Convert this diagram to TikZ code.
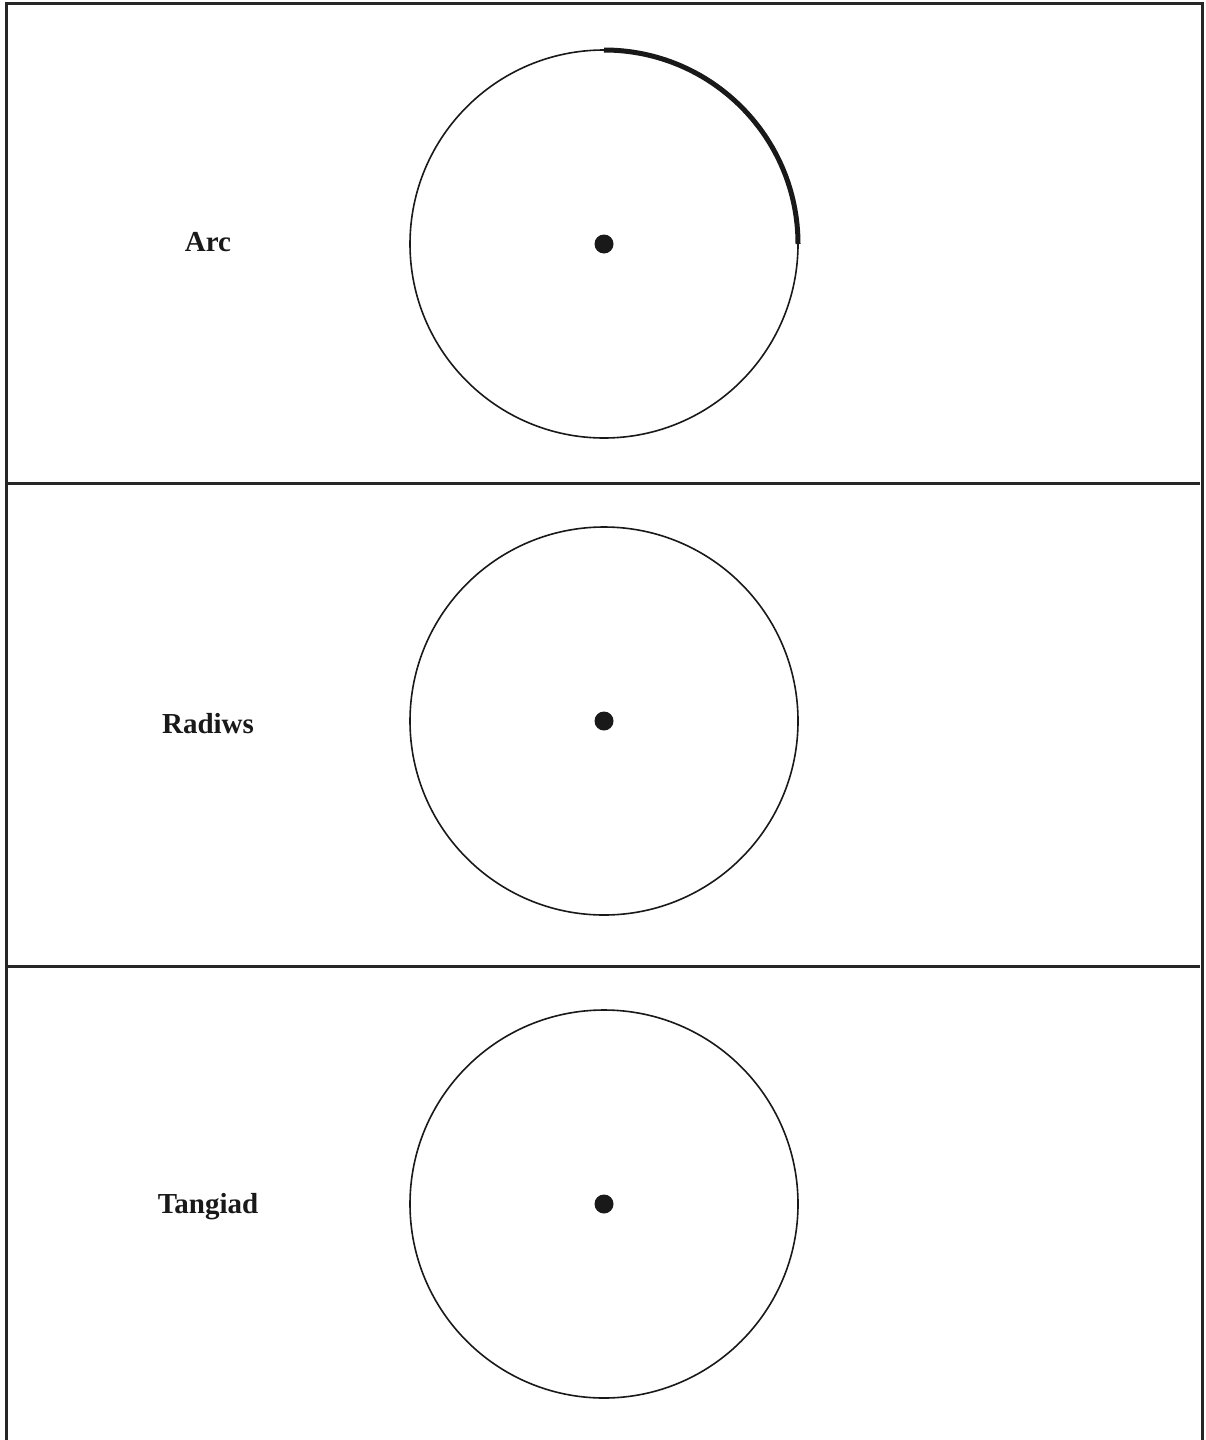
\documentclass[tikz,border=0pt]{standalone}
\usepackage{fontspec}
\setmainfont{Liberation Serif}
\begin{document}
\begin{tikzpicture}[x=1pt,y=-1pt,
  frame/.style={line width=3pt,draw=black!85},
  circ/.style={line width=1.6pt,draw=black!90},
  thickarc/.style={line width=5pt,draw=black!90},
  centre/.style={circle,fill=black!90,inner sep=0pt,minimum size=19pt},
  lbl/.style={font=\bfseries\fontsize{29}{34}\selectfont,text=black!90}]
\useasboundingbox (0,0) rectangle (1205,1440);
\draw[frame] (6,1440) -- (6,3) -- (1202,3) -- (1202,1440);
\draw[frame] (6,483) -- (1200,483);
\draw[frame] (6,966) -- (1200,966);
% panel 1
\coordinate (c1) at (604,244);
\draw[circ] (c1) circle[radius=194];
\draw[thickarc] (604,50) arc[start angle=-90,end angle=0,radius=194];
\node[centre] (d1) at (c1) {};
\node[lbl] (t1) at (208,242) {Arc};
% panel 2
\coordinate (c2) at (604,721);
\draw[circ] (c2) circle[radius=194];
\node[centre] (d2) at (c2) {};
\node[lbl] (t2) at (208,724) {Radiws};
% panel 3
\coordinate (c3) at (604,1204);
\draw[circ] (c3) circle[radius=194];
\node[centre] (d3) at (c3) {};
\node[lbl] (t3) at (208,1207) {Tangiad};
\end{tikzpicture}
\end{document}
